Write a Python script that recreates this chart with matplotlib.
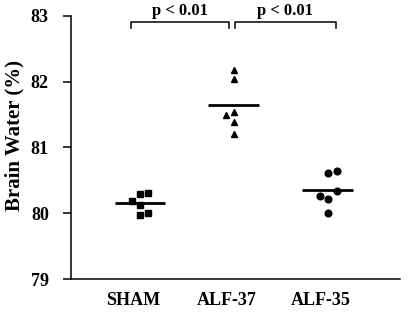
import numpy as np
import matplotlib.pyplot as plt

plt.rcParams.update({
    'font.family': 'Liberation Serif',
    'font.weight': 'bold',
    'axes.linewidth': 1.1,
})

# data
groups = ['SHAM', 'ALF-37', 'ALF-35']
sham = [80.29, 80.31, 80.19, 80.13, 79.97, 80.00]
alf37 = [82.18, 82.04, 81.49, 81.54, 81.39, 81.21]
alf35 = [80.61, 80.64, 80.26, 80.22, 80.34, 80.00]
means = [80.16, 81.65, 80.35]
p_labels = ['p < 0.01', 'p < 0.01']

# horizontal jitter of the points (per group)
jit_sham = [0.0, 0.085, -0.085, 0.0, 0.0, 0.085]
jit_37 = [0.0, 0.0, -0.085, 0.0, 0.0, 0.0]
jit_35 = [0.0, 0.095, -0.085, 0.0, 0.095, 0.0]

fig = plt.figure(figsize=(4.09, 3.23), dpi=100)
ax = fig.add_axes([0.1736, 0.1362, 0.978 - 0.1736, 0.9505 - 0.1362])

series = [(sham, jit_sham, 's', 4.2), (alf37, jit_37, '^', 4.6), (alf35, jit_35, 'o', 4.8)]
for i, (vals, jit, m, ms) in enumerate(series):
    xs = i + np.array(jit)
    ax.plot(xs, vals, linestyle='none', marker=m, markersize=ms, color='black')
    ax.hlines(means[i], i - 0.27, i + 0.27, color='black', linewidth=2.0)

ax.set_xlim(-0.734, 2.77)
ax.set_ylim(79, 83)
ax.set_yticks([79, 80, 81, 82, 83])
ax.set_xticks([i - 0.07 for i in range(3)])
ax.set_xticklabels(groups, fontsize=13, fontweight='bold')
ax.tick_params(axis='x', length=0, pad=9)
ax.tick_params(axis='y', length=6, width=1.1, labelsize=13, pad=10)
for lab in ax.get_yticklabels():
    lab.set_fontweight('bold')
ax.spines['top'].set_visible(False)
ax.spines['right'].set_visible(False)
ax.set_ylabel('Brain Water (%)', fontsize=15, fontweight='bold')
ax.yaxis.set_label_coords(-0.14, 0.544)

# significance brackets
brackets = [(-0.096, 0.947), (1.01, 2.085)]
y_top, y_low = 82.91, 82.82
for (x0, x1), txt in zip(brackets, p_labels):
    ax.plot([x0, x0, x1, x1], [y_low, y_top, y_top, y_low], color='black',
            linewidth=1.1, clip_on=False)
    ax.text((x0 + x1) / 2, y_top + 0.04, txt, ha='center', va='bottom',
            fontsize=12, fontweight='bold')

fig.savefig('out.png', dpi=100)
